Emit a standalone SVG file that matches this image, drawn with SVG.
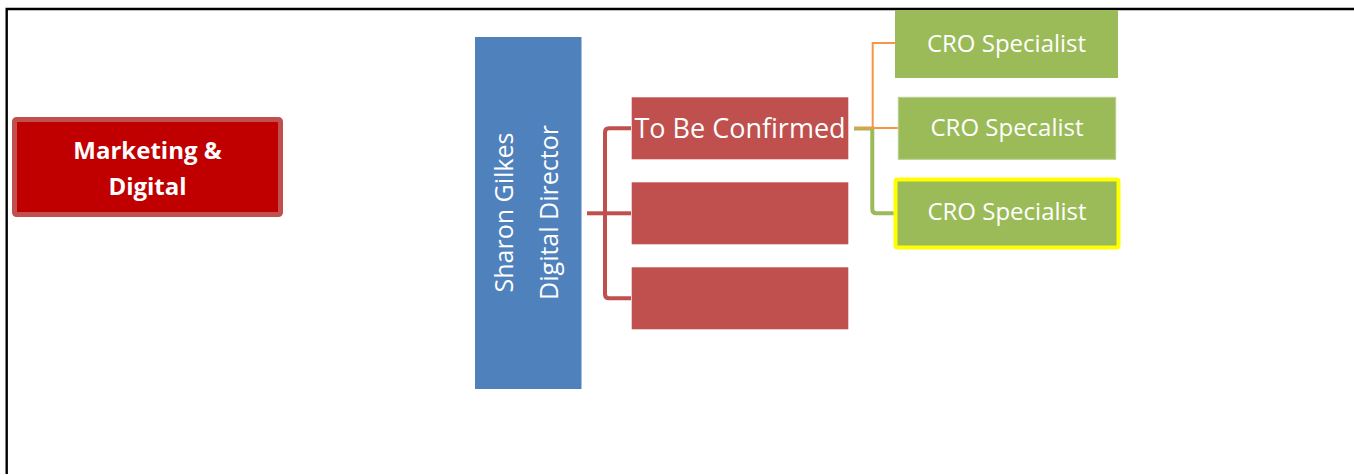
<svg xmlns="http://www.w3.org/2000/svg" width="1354" height="475" viewBox="0 0 1354 475">
<style>
  .t { font-family: "Open Sans", "Noto Sans", "Liberation Sans", sans-serif; fill: #ffffff; }
  .red { fill: #C0504D; }
  .green { fill: #9BBB59; }
  .cro { font-size: 24px; text-anchor: middle; }
</style>
<rect x="0" y="0" width="1354" height="475" fill="#ffffff"/>
<path d="M6.7,474 V9 H1354" fill="none" stroke="#000000" stroke-width="2.4"/>

<g id="connectors" fill="none">
  <path d="M587,213.3 H605" stroke="#C0504D" stroke-width="4"/>
  <path d="M631,128.3 H609 Q605,128.3 605,132.3 V294.3 Q605,298.3 609,298.3 H631" stroke="#C0504D" stroke-width="4"/>
  <path d="M605,213.3 H631" stroke="#C0504D" stroke-width="4"/>
  <path d="M854,128.5 H872.3 V209.3 Q872.3,213.3 876.3,213.3 H894" stroke="#9BBB59" stroke-width="4"/>
  <path d="M854,128 H898" stroke="#F79646" stroke-width="2"/>
  <path d="M872.7,128 V43 H895" stroke="#F79646" stroke-width="2"/>
</g>

<g id="marketing">
  <rect x="14.5" y="119.5" width="266" height="95" rx="2" fill="#C00000" stroke="#C0504D" stroke-width="5"/>
  <text class="t" x="147.5" y="159.3" font-size="24" font-weight="bold" text-anchor="middle">Marketing &amp;</text>
  <text class="t" x="147.5" y="194.5" font-size="24" font-weight="bold" text-anchor="middle">Digital</text>
</g>

<g id="director">
  <rect x="475" y="37" width="106.5" height="352" fill="#4F81BD"/>
  <text class="t" font-size="25" text-anchor="middle" transform="translate(513,212.5) rotate(-90)">Sharon Gilkes</text>
  <text class="t" font-size="25" text-anchor="middle" transform="translate(558,212.5) rotate(-90)">Digital Director</text>
</g>

<g id="tbc">
  <rect class="red" x="631.7" y="97.3" width="216.6" height="62"/>
  <text class="t" x="740" y="138" font-size="27" text-anchor="middle">To Be Confirmed</text>
</g>
<g id="red2">
  <rect class="red" x="631.7" y="182.3" width="216.6" height="62"/>
</g>
<g id="red3">
  <rect class="red" x="631.7" y="267.3" width="216.6" height="62"/>
</g>

<g id="cro1">
  <rect class="green" x="895" y="10" width="223" height="68"/>
  <text class="t cro" x="1006.5" y="52.3">CRO Specialist</text>
</g>
<g id="cro2">
  <rect class="green" x="898.3" y="97.3" width="217.4" height="62" stroke="#B7CF8A" stroke-width="1"/>
  <text class="t cro" x="1007" y="136">CRO Specalist</text>
</g>
<g id="cro3">
  <rect class="green" x="895.5" y="179.5" width="223" height="68" rx="2" stroke="#FFFF00" stroke-width="4"/>
  <text class="t cro" x="1007" y="220">CRO Specialist</text>
</g>
</svg>
